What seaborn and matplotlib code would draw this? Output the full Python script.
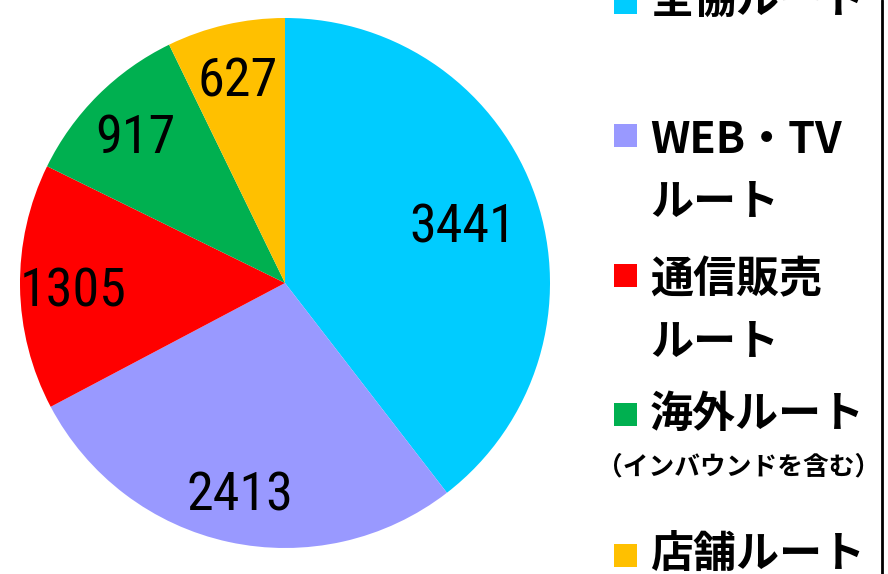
import matplotlib
matplotlib.use("Agg")
import numpy as np
import seaborn as sns
import matplotlib.pyplot as plt
from matplotlib.patches import Rectangle
from matplotlib.lines import Line2D

sns.set_theme(style="white")
plt.rcParams['font.family'] = ['Noto Sans CJK JP', 'DejaVu Sans']
plt.rcParams['text.color'] = 'black'

routes = ["全協ルート", "WEB・TV\nルート", "通信販売\nルート", "海外ルート", "店舗ルート"]
counts = [3441, 2413, 1305, 917, 627]
colors = ["#00CCFF", "#9999FF", "#FF0000", "#00B050", "#FFC000"]
note = "（インバウンドを含む）"

narrow = ["Liberation Sans Narrow", "Roboto Condensed", "Archivo Narrow",
          "PT Sans Narrow", "Fira Sans Condensed", "DejaVu Sans"]

fig = plt.figure(figsize=(8.88, 5.74), dpi=100)
W, H = 888, 574
cx, cy, r = 285, 283, 265
ax = fig.add_axes([(cx - r) / W, (H - cy - r) / H, 2 * r / W, 2 * r / H])

wedges, texts, autotexts = ax.pie(
    counts, colors=colors, startangle=90, counterclock=False,
    autopct=lambda p: f"{int(round(p * sum(counts) / 100))}",
    pctdistance=0.80, wedgeprops=dict(linewidth=0),
    textprops=dict(fontsize=39, color="black", family=narrow))
autotexts[0].set_position((0.71 * np.cos(np.deg2rad(90 - 71.2)),
                           0.71 * np.sin(np.deg2rad(90 - 71.2))))
for t in autotexts:
    t.set_verticalalignment("center_baseline")
ax.set_xlim(-1, 1)
ax.set_ylim(-1, 1)
ax.axis("off")

# legend drawn by hand (layout in pixels)
line_y = [[0], [140, 202], [279, 342], [414], [554]]
marker_y = [2, 135, 275, 414, 555]
for lab, col, ys, my in zip(routes, colors, line_y, marker_y):
    fig.add_artist(Rectangle((614 / W, (H - my - 11.5) / H), 23 / W, 23 / H,
                             transform=fig.transFigure, color=col, lw=0))
    for line, y in zip(lab.split("\n"), ys):
        fig.text(650 / W, (H - y) / H, line, fontsize=31, fontweight="bold",
                 va="center", ha="left")
fig.text(739 / W, (H - 467) / H, note, fontsize=18.5, fontweight="bold",
         va="center", ha="center")

fig.add_artist(Line2D([882 / W, 882 / W], [0, 1], color="black", lw=2,
                      transform=fig.transFigure))

fig.savefig("out.png", dpi=100)
